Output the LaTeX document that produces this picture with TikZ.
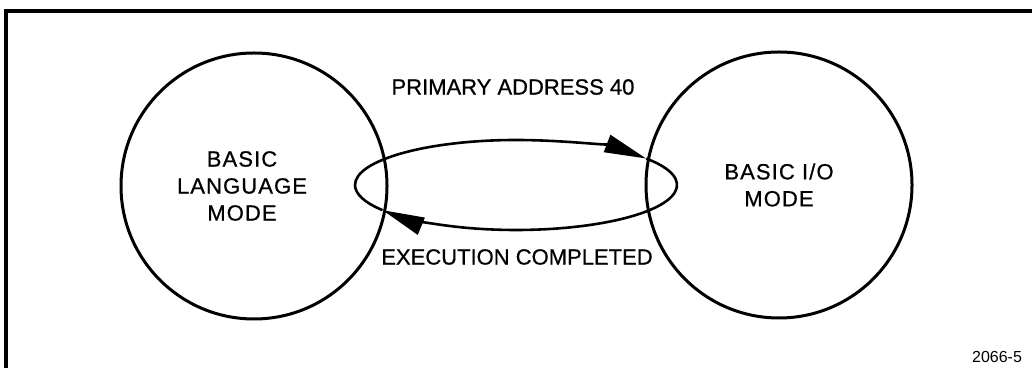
\documentclass[tikz,border=0pt]{standalone}
\usepackage{fontspec}
\setmainfont{Liberation Sans}
\newfontfamily\labelfont[FakeBold=0.7]{Liberation Sans}
\newfontfamily\widefont[FakeBold=0.7,LetterSpace=5]{Liberation Sans}
\usepackage{tikz}
\usetikzlibrary{arrows.meta, positioning, calc}
\tikzstyle{mode} = [circle, draw=black, line width=1.5pt, minimum size=133pt, inner sep=0pt]
\tikzstyle{modetext} = [align=center, font=\widefont\fontsize{11}{13.5}\selectfont]
\tikzstyle{caption} = [font=\labelfont\fontsize{11}{13}\selectfont]
\tikzstyle{loopline} = [line width=1.3pt]
\tikzstyle{flow} = [loopline, -{Triangle[length=21pt,width=9pt]}]

\begin{document}
\begin{tikzpicture}[x=0.5pt,y=0.5pt]
    \useasboundingbox (0,0) rectangle (1032,368);
    % frame, cut off at the right and bottom
    \draw[line width=1.8pt] (6,0) -- (6,357) -- (1032,357);

    \node[mode] (lang) at (254,182) {};
    \node[mode] (io) at (779,183) {};
    \node[modetext] (langtext) at ([xshift=-6pt]lang.center) {BASIC\\LANGUAGE\\MODE};
    \node[modetext] (iotext) at (io.center) {BASIC I/O\\MODE};

    % loop between the two modes
    \coordinate (loop) at (516,183);
    \draw[flow] ([shift={(180:161 and 45)}]loop) arc[start angle=180, end angle=36, x radius=161, y radius=45] coordinate (toio);
    \draw[flow] (toio) arc[start angle=36, end angle=-146, x radius=161, y radius=45] coordinate (tolang);
    \draw[loopline] (tolang) arc[start angle=-146, end angle=-180, x radius=161, y radius=45];

    \node[caption] (primary) at (513,281) {PRIMARY ADDRESS 40};
    \node[caption] (done) at (517,111) {EXECUTION COMPLETED};
    \node[font=\fontsize{8}{9}\selectfont] (fignum) at (997,11) {2066-5};
\end{tikzpicture}
\end{document}
